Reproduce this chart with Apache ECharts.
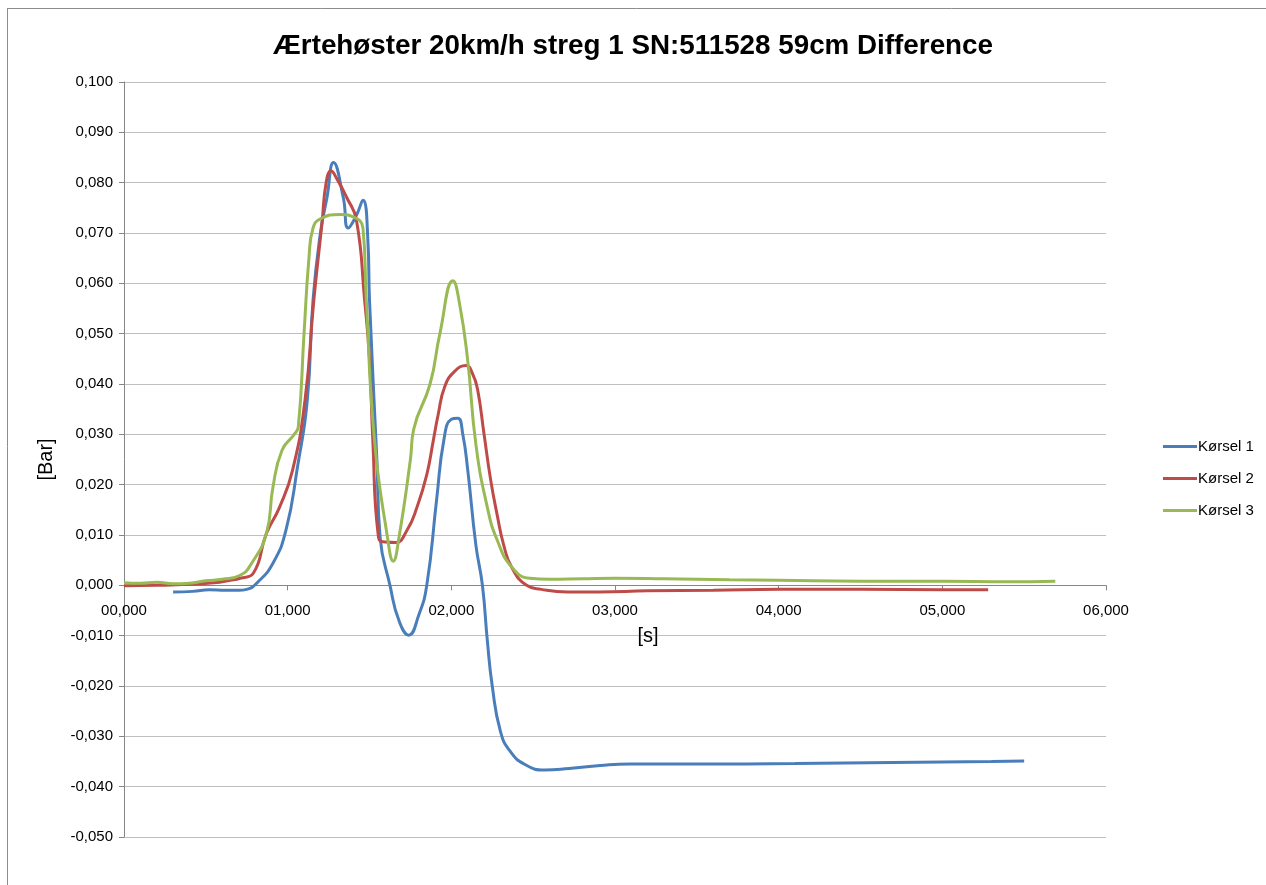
<!DOCTYPE html>
<html>
<head>
<meta charset="utf-8">
<script src="https://cdn.jsdelivr.net/npm/echarts@6/dist/echarts.min.js"></script>
<style>
  html, body { margin: 0; padding: 0; background: #fff; }
  #chart { width: 1266px; height: 885px; }
</style>
</head>
<body>
<div id="chart"></div>
<script>
// Pressure difference [Bar] over time [s] for three runs
const seriesNames = ['Kørsel 1', 'Kørsel 2', 'Kørsel 3'];

const k1Time = [0.30, 0.42, 0.52, 0.62, 0.70, 0.75, 0.81, 0.91, 0.99, 1.06, 1.12, 1.155, 1.20, 1.24, 1.28, 1.34, 1.37, 1.42, 1.46, 1.49, 1.50, 1.545, 1.565, 1.625, 1.68, 1.74, 1.80, 1.85, 1.91, 1.955, 2.00, 2.04, 2.07, 2.10, 2.15, 2.19, 2.22, 2.25, 2.30, 2.36, 2.45, 2.57, 2.72, 2.91, 3.09, 3.50, 4.10, 4.70, 5.30, 5.50];
const k1Bar = [-0.0013, -0.0012, -0.0009, -0.0010, -0.0010, -0.0008, 0.0004, 0.0044, 0.0110, 0.0235, 0.0368, 0.0567, 0.0700, 0.0770, 0.0840, 0.0770, 0.0710, 0.0735, 0.0765, 0.0686, 0.0567, 0.0250, 0.0095, 0.0000, -0.0070, -0.0099, -0.0060, 0.0000, 0.0170, 0.0290, 0.0330, 0.0332, 0.0300, 0.0230, 0.0080, 0.0000, -0.0110, -0.0200, -0.0290, -0.0330, -0.0356, -0.0367, -0.0364, -0.0358, -0.0355, -0.0355, -0.0354, -0.0352, -0.0350, -0.0349];

const k2Time = [0.00, 0.20, 0.40, 0.55, 0.65, 0.71, 0.79, 0.87, 0.95, 1.03, 1.106, 1.16, 1.21, 1.235, 1.265, 1.30, 1.36, 1.42, 1.47, 1.50, 1.52, 1.555, 1.60, 1.66, 1.73, 1.79, 1.85, 1.89, 1.92, 1.96, 2.02, 2.09, 2.13, 2.16, 2.20, 2.24, 2.28, 2.32, 2.37, 2.46, 2.55, 2.71, 2.90, 3.20, 3.60, 4.00, 4.50, 5.00, 5.28];
const k2Bar = [-0.0001, 0.0000, 0.0002, 0.0005, 0.0010, 0.0014, 0.0024, 0.0103, 0.0155, 0.0229, 0.0368, 0.0567, 0.0720, 0.0800, 0.0823, 0.0808, 0.0771, 0.0726, 0.0567, 0.0450, 0.0290, 0.0095, 0.0086, 0.0085, 0.0110, 0.0155, 0.0220, 0.0288, 0.0340, 0.0395, 0.0425, 0.0437, 0.0420, 0.0390, 0.0300, 0.0210, 0.0140, 0.0080, 0.0035, 0.0000, -0.0008, -0.0013, -0.0013, -0.0011, -0.0010, -0.0008, -0.0008, -0.0009, -0.0009];

const k3Time = [0.00, 0.10, 0.20, 0.30, 0.40, 0.50, 0.60, 0.71, 0.78, 0.87, 0.91, 0.965, 1.04, 1.065, 1.10, 1.13, 1.155, 1.20, 1.32, 1.40, 1.46, 1.48, 1.53, 1.61, 1.645, 1.68, 1.75, 1.77, 1.87, 1.93, 2.01, 2.05, 2.10, 2.15, 2.22, 2.28, 2.37, 2.48, 2.60, 2.80, 3.00, 3.30, 3.70, 4.00, 4.50, 5.00, 5.40, 5.69];
const k3Bar = [0.0005, 0.0004, 0.0006, 0.0003, 0.0004, 0.0009, 0.0012, 0.0020, 0.0044, 0.0103, 0.0195, 0.0268, 0.0300, 0.0315, 0.0500, 0.0650, 0.0710, 0.0728, 0.0737, 0.0732, 0.0710, 0.0570, 0.0290, 0.0095, 0.0048, 0.0095, 0.0250, 0.0310, 0.0400, 0.0500, 0.0605, 0.0560, 0.0447, 0.0280, 0.0155, 0.0090, 0.0036, 0.0014, 0.0012, 0.0013, 0.0014, 0.0013, 0.0011, 0.0010, 0.0008, 0.0008, 0.0007, 0.0008];

const colors = ['#4a7ebb', '#be4b48', '#98b954'];
const FONT = 'Liberation Sans';

function pairs(xs, ys) { return xs.map((x, i) => [x, ys[i]]); }
const allData = [pairs(k1Time, k1Bar), pairs(k2Time, k2Bar), pairs(k3Time, k3Bar)];

// plot area geometry; the time axis sits on the zero line of the pressure axis
const GRID = { left: 124, right: 160, top: 82, bottom: 48 };
const Y_MIN = -0.05, Y_MAX = 0.1;
const plotHeight = 885 - GRID.top - GRID.bottom;
const zeroShift = plotHeight * (0 - Y_MIN) / (Y_MAX - Y_MIN);

const chart = echarts.init(document.getElementById('chart'), null, { renderer: 'canvas' });

chart.setOption({
  animation: false,
  backgroundColor: '#ffffff',
  color: colors,
  title: {
    text: 'Ærtehøster 20km/h streg 1 SN:511528 59cm Difference',
    left: 'center',
    top: 27,
    textStyle: { fontFamily: FONT, fontSize: 27.8, fontWeight: 'bold', color: '#000' }
  },
  legend: {
    orient: 'vertical',
    left: 1158,
    top: 434,
    itemWidth: 34,
    itemHeight: 3,
    itemGap: 17,
    icon: 'rect',
    textStyle: { fontFamily: FONT, fontSize: 15, color: '#000', padding: [0, 0, 0, -4] },
    data: seriesNames
  },
  grid: Object.assign({ containLabel: false, outerBoundsMode: 'none' }, GRID),
  xAxis: {
    type: 'value',
    position: 'bottom',
    offset: -zeroShift,
    min: 0, max: 6, interval: 1,
    name: '[s]',
    nameLocation: 'middle',
    nameGap: 41,
    nameTextStyle: { fontFamily: FONT, fontSize: 20, color: '#000', padding: [0, 0, 0, 66] },
    axisLine: { onZero: false, lineStyle: { color: '#868686', width: 1 } },
    axisTick: { show: true, length: 5, lineStyle: { color: '#868686' } },
    axisLabel: {
      margin: 18,
      fontFamily: FONT, fontSize: 15, color: '#000',
      formatter: v => '0' + Math.round(v) + ',000'
    },
    splitLine: { show: false }
  },
  yAxis: {
    type: 'value',
    min: Y_MIN, max: Y_MAX, interval: 0.01,
    name: '[Bar]',
    nameLocation: 'middle',
    nameGap: 68,
    nameRotate: 90,
    nameTextStyle: { fontFamily: FONT, fontSize: 20, color: '#000' },
    axisLine: { show: true, lineStyle: { color: '#868686', width: 1 } },
    axisTick: { show: true, length: 5, lineStyle: { color: '#868686' } },
    axisLabel: {
      margin: 11,
      fontFamily: FONT, fontSize: 15, color: '#000',
      formatter: v => v.toFixed(3).replace('.', ',')
    },
    splitLine: { show: true, lineStyle: { color: '#bfbfbf', width: 1 } }
  },
  graphic: [
    { type: 'line', shape: { x1: 7.5, y1: 8, x2: 7.5, y2: 885 }, style: { stroke: '#8c8c8c', lineWidth: 1 } },
    { type: 'line', shape: { x1: 7, y1: 8.5, x2: 1266, y2: 8.5 }, style: { stroke: '#8c8c8c', lineWidth: 1 } }
  ],
  series: seriesNames.map((name, i) => ({
    name,
    type: 'line',
    data: allData[i],
    symbol: 'none',
    smooth: 0.5,
    lineStyle: { width: 3, color: colors[i] },
    itemStyle: { color: colors[i] }
  }))
});
</script>
</body>
</html>
